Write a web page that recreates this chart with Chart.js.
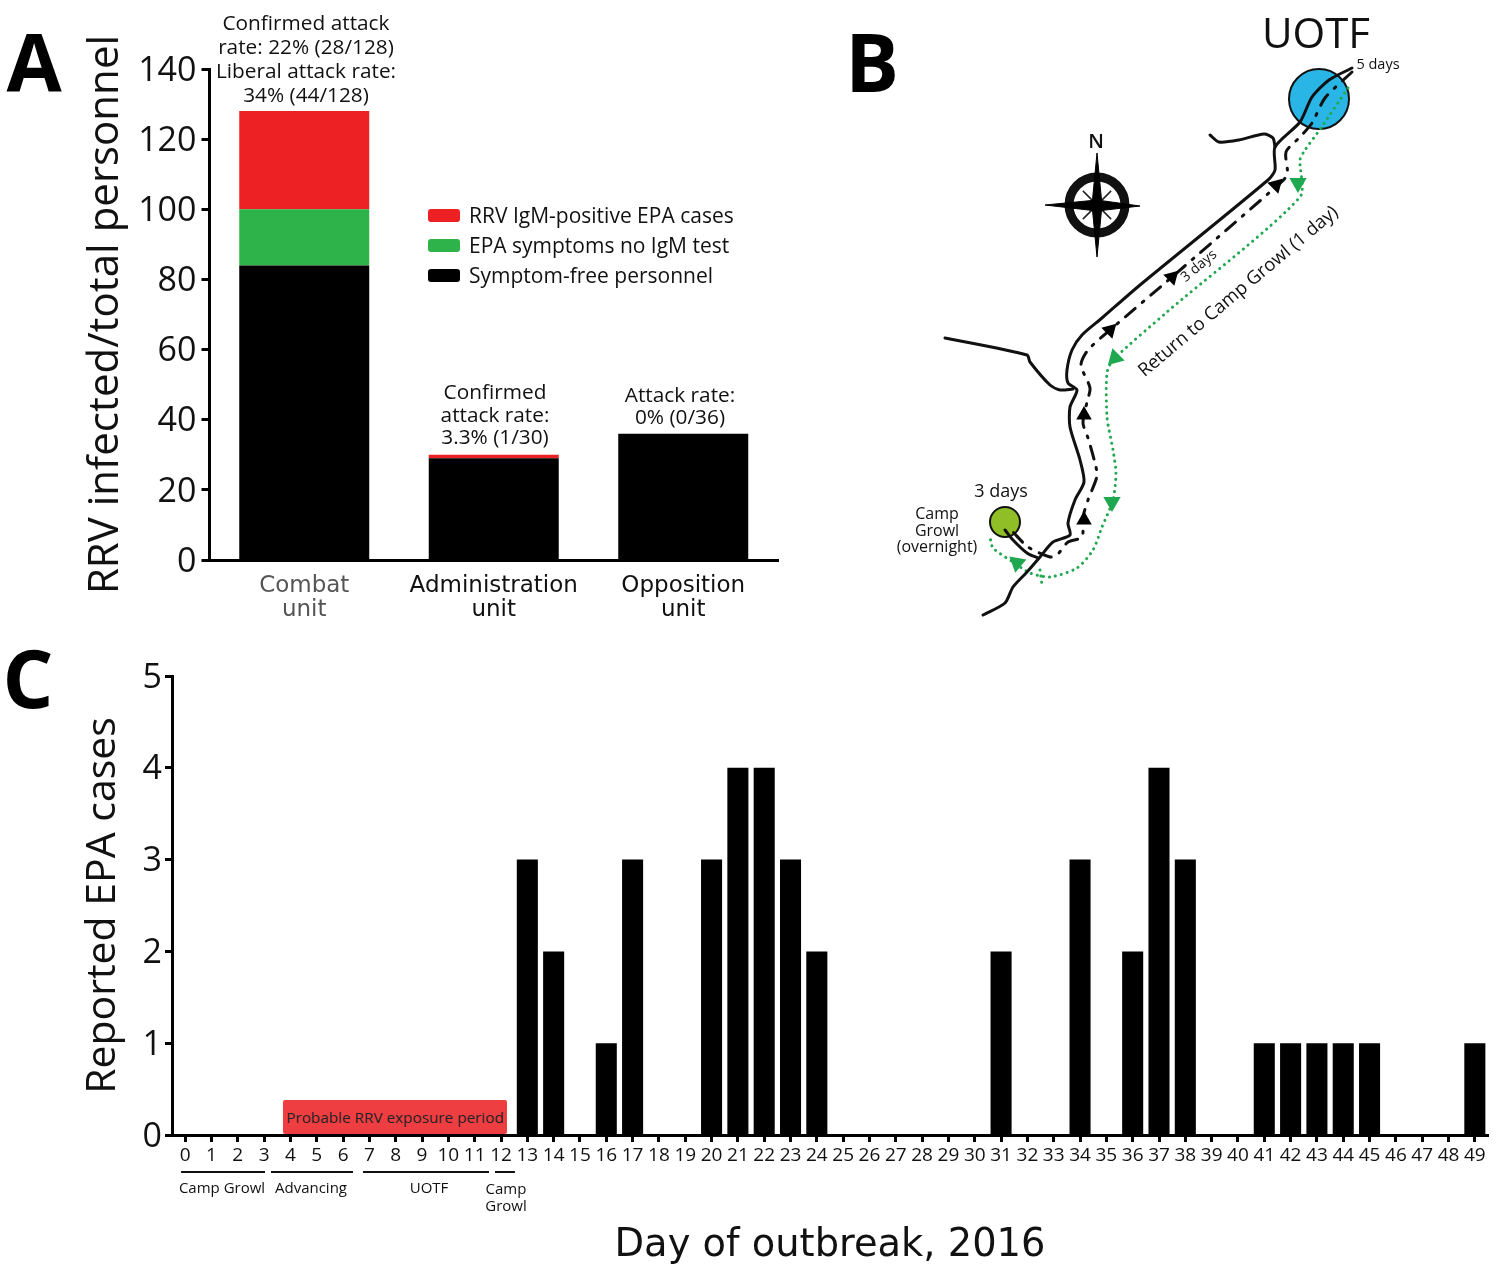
<!DOCTYPE html>
<html>
<head>
<meta charset="utf-8">
<title>RRV outbreak</title>
<script src="https://cdn.jsdelivr.net/npm/chart.js@4"></script>
<style>
  html, body { margin: 0; background: #fff; }
  #page { position: relative; width: 1500px; height: 1276px; overflow: hidden; font-family: "Open Sans", sans-serif; color: #111; }
  canvas { position: absolute; }
  .t { position: absolute; transform: translate(-50%, -50%); white-space: nowrap; text-align: center; }
  .bar { position: absolute; background: #111; height: 2px; }
  .swatch { position: absolute; width: 32px; height: 13px; border-radius: 3px; }
</style>
</head>
<body>
<div id="page">
  <canvas id="chartA" width="800" height="630" style="left:0;top:0"></canvas>
  <canvas id="chartB" width="560" height="630" style="left:880px;top:0"></canvas>
  <canvas id="chartC" width="1500" height="636" style="left:0;top:640px"></canvas>
</div>
<script>
// -- Panel A data --
const unitLabels = [['Combat', 'unit'], ['Administration', 'unit'], ['Opposition', 'unit']];
const symptomFree = [84, 29, 36];
const noIgmTest = [16, 0, 0];
const igmPositive = [28, 1, 0];
const legendLabels = ['RRV IgM-positive EPA cases', 'EPA symptoms no IgM test', 'Symptom-free personnel'];

// -- Panel C data --
const days = ['0','1','2','3','4','5','6','7','8','9','10','11','12','13','14','15','16','17','18','19','20','21','22','23','24',
  '25','26','27','28','29','30','31','32','33','34','35','36','37','38','39','40','41','42','43','44','45','46','47','48','49'];
const epaCases = [0,0,0,0,0,0,0,0,0,0,0,0,0,3,2,0,1,3,0,0,3,4,4,3,2,
  0,0,0,0,0,0,2,0,0,3,0,2,4,3,0,0,1,1,1,1,1,0,0,0,1];

// -- Panel B map traces --
const riverMain = [[1352,68],[1329,80],[1312,97],[1300,122],[1275,147],[1275,170],[1268,180],[1140,285],[1102,318],[1082,335],[1072,350],
  [1067,370],[1068,383],[1077,390],[1070,407],[1070,427],[1080,460],[1084,482],[1075,500],[1068,523],[1070,535],[1053,542],
  [1040,557],[1027,572],[1013,587],[1005,603],[983,615]];
const riverWest = [[945,338],[1027,355],[1030,362],[1050,385],[1060,390],[1073,389]];
const riverNorth = [[1210,135],[1219,142],[1239,140],[1264,134],[1273,138],[1275,147]];
const campSpur = [[1005,530],[1013,540],[1027,553],[1038,558]];
const advanceRoute = [[1352,72],[1325,98],[1312,123],[1300,137],[1286,152],[1287,175],[1270,192],[1172,277],[1110,330],[1088,350],
  [1081,365],[1090,388],[1087,402],[1083,423],[1088,438],[1095,463],[1097,476],[1088,500],[1083,517],[1082,537],[1068,542],
  [1057,555],[1050,557],[1028,547],[1013,532]];
const returnRoute = [[1348,88],[1321,128],[1305,150],[1300,160],[1300,197],[1167,312],[1113,360],[1107,373],[1107,417],[1113,450],
  [1116,473],[1113,500],[1102,527],[1093,550],[1077,568],[1050,577],[1030,573],[1013,562],[993,548],[990,537]];
const returnSpur = [[1040,570],[1042,585]];
const blackArrows = [[1276,185,45],[1172,277,45],[1110,330,45],[1084,415,0],[1084,520,0]];
const greenArrows = [[1298,183,180],[1115,358,225],[1112,502,180],[1017,563,310]];
const uotfSite = [[1319,99]];
const campSite = [[1005,522]];
const compassCentre = [[1097,205]];
const compassNS = [[1097,153],[1102,205],[1097,257],[1092,205],[1097,153]];
const compassEW = [[1045,205],[1097,200],[1140,206],[1097,211],[1045,205]];

const toXY = pts => pts.map(p => ({ x: p[0], y: p[1] }));
const FONT = '"Open Sans", sans-serif';
const WIDE_FONT = '"DejaVu Sans", sans-serif';
const RED = '#ed2024', GREEN = '#2db34a', BLACK = '#000';

const page = document.getElementById('page');
function addText(x, y, text, size, extra) {
  const d = document.createElement('div');
  d.className = 't';
  d.textContent = text;
  d.style.cssText = `left:${x}px;top:${y}px;font-size:${size}px;` + (extra || '');
  page.appendChild(d);
  return d;
}
function addBar(x1, x2, y) {
  const d = document.createElement('div');
  d.className = 'bar';
  d.style.cssText = `left:${x1}px;top:${y}px;width:${x2 - x1}px`;
  page.appendChild(d);
}

// -- Panel A: stacked bars --
new Chart(document.getElementById('chartA'), {
  type: 'bar',
  data: {
    labels: unitLabels,
    datasets: [
      { label: legendLabels[2], data: symptomFree, backgroundColor: BLACK },
      { label: legendLabels[1], data: noIgmTest, backgroundColor: GREEN },
      { label: legendLabels[0], data: igmPositive, backgroundColor: RED }
    ]
  },
  options: {
    responsive: false,
    animation: false,
    barPercentage: 1,
    categoryPercentage: 0.686,
    layout: { padding: { left: 81, top: 69, right: 22, bottom: 0 } },
    plugins: { legend: { display: false }, tooltip: { enabled: false } },
    scales: {
      x: {
        stacked: true,
        grid: { display: false },
        border: { color: BLACK, width: 3 },
        ticks: {
          maxRotation: 0,
          padding: 6,
          color: c => c.index === 0 ? '#555' : '#111',
          font: { family: WIDE_FONT, size: 23, lineHeight: 1.05 }
        },
        afterFit: s => { s.height = 70; }
      },
      y: {
        stacked: true,
        min: 0, max: 140,
        grid: { drawOnChartArea: false, tickLength: 8, tickWidth: 3, tickColor: BLACK },
        border: { color: BLACK, width: 3 },
        ticks: { stepSize: 20, padding: 5, labelOffset: 2, color: '#111', font: { family: FONT, size: 34 } },
        title: { display: true, text: 'RRV infected/total personnel', color: '#111', padding: 0, font: { family: FONT, size: 42 } },
        afterFit: s => { s.width = 128.5; }
      }
    }
  }
});

// -- Panel B: route map, traced through hidden scales --
const routeLine = (pts, color, width, dash) => ({
  data: toXY(pts), showLine: true, pointRadius: 0, borderColor: color, borderWidth: width,
  borderDash: dash || [], borderCapStyle: 'round', borderJoinStyle: 'round', tension: 0.25, fill: false
});
const greenLine = pts => routeLine(pts, '#1fa850', 3, [0.1, 6]);
const arrows = (pts, color, r) => ({
  data: toXY(pts), pointStyle: 'triangle', pointRadius: r, borderWidth: 0, backgroundColor: color, borderColor: color,
  pointRotation: pts.map(p => p[2])
});
const site = (pts, color, r) => ({
  data: toXY(pts), pointStyle: 'circle', pointRadius: r, backgroundColor: color, borderColor: '#111', borderWidth: 2
});
const kite = pts => ({
  data: toXY(pts), showLine: true, pointRadius: 0, borderColor: BLACK, borderWidth: 1, backgroundColor: BLACK, fill: 'shape', tension: 0
});

new Chart(document.getElementById('chartB'), {
  type: 'scatter',
  data: {
    datasets: [
      arrows(blackArrows, BLACK, 9),
      arrows(greenArrows, '#1fa850', 10),
      routeLine(riverMain, '#111', 3),
      routeLine(riverWest, '#111', 3),
      routeLine(riverNorth, '#111', 3),
      routeLine(campSpur, '#111', 3),
      routeLine(advanceRoute, '#111', 3, [13, 9, 2, 9]),
      greenLine(returnRoute),
      greenLine(returnSpur),
      kite(compassNS),
      kite(compassEW),
      { data: toXY(compassCentre), pointStyle: 'crossRot', pointRadius: 20, borderColor: '#222', borderWidth: 1.5 },
      { data: toXY(compassCentre), pointStyle: 'circle', pointRadius: 28, borderColor: '#111', borderWidth: 9, backgroundColor: '#fff' },
      site(uotfSite, '#29b5e5', 30),
      site(campSite, '#8fbe26', 15)
    ]
  },
  options: {
    responsive: false,
    animation: false,
    layout: { autoPadding: false },
    plugins: { legend: { display: false }, tooltip: { enabled: false } },
    scales: {
      x: { display: false, min: 880, max: 1440 },
      y: { display: false, min: 0, max: 630, reverse: true }
    }
  }
});

// -- Panel C: daily cases --
new Chart(document.getElementById('chartC'), {
  type: 'bar',
  data: { labels: days, datasets: [{ data: epaCases, backgroundColor: BLACK, barPercentage: 1, categoryPercentage: 0.8 }] },
  options: {
    responsive: false,
    animation: false,
    layout: { padding: { left: 79, top: 36, right: 12, bottom: 0 } },
    plugins: { legend: { display: false }, tooltip: { enabled: false } },
    scales: {
      x: {
        grid: { offset: false, drawOnChartArea: false, tickLength: 7, tickWidth: 3, tickColor: BLACK },
        border: { color: BLACK, width: 3 },
        ticks: { autoSkip: false, maxRotation: 0, padding: 2, color: '#111', font: { family: FONT, size: 19 } },
        title: { display: true, text: 'Day of outbreak, 2016', color: '#111', padding: { top: 0, bottom: 7 }, font: { family: WIDE_FONT, size: 38.4 } },
        afterFit: s => { s.height = 141; }
      },
      y: {
        min: 0, max: 5,
        grid: { drawOnChartArea: false, tickLength: 7, tickWidth: 3, tickColor: BLACK },
        border: { color: BLACK, width: 3 },
        ticks: { stepSize: 1, padding: 3, labelOffset: 2, color: '#111', font: { family: FONT, size: 34 } },
        title: { display: true, text: 'Reported EPA cases', color: '#111', padding: 0, font: { family: FONT, size: 41 } },
        afterFit: s => { s.width = 93; }
      }
    }
  }
});

// -- Panel letters --
const LETTER = 'font-weight:700;color:#000;';
addText(34, 60, 'A', 80, LETTER);
addText(872, 60, 'B', 80, LETTER);
addText(28, 676, 'C', 80, LETTER);

// -- Panel A notes and legend --
['Confirmed attack', 'rate: 22% (28/128)', 'Liberal attack rate:', '34% (44/128)'].forEach((s, i) => addText(306, 22 + i * 24, s, 20.8));
['Confirmed', 'attack rate:', '3.3% (1/30)'].forEach((s, i) => addText(495, 391 + i * 22.5, s, 20.8));
['Attack rate:', '0% (0/36)'].forEach((s, i) => addText(680, 394 + i * 22, s, 20.8));
[RED, GREEN, BLACK].forEach((col, i) => {
  const sw = document.createElement('div');
  sw.className = 'swatch';
  sw.style.cssText = `left:428px;top:${209 + i * 30}px;background:${col}`;
  page.appendChild(sw);
  const tx = addText(469, 215 + i * 30, legendLabels[i], 21);
  tx.style.transform = 'translate(0,-50%)';
});

// -- Panel B labels --
addText(1316, 31, 'UOTF', 42);
addText(1378, 63, '5 days', 14.5);
addText(1096, 140, 'N', 20, 'font-weight:600;');
addText(1198, 265, '3 days', 14, 'transform:translate(-50%,-50%) rotate(-40deg);');
addText(1237, 290, 'Return to Camp Growl (1 day)', 18.5, 'transform:translate(-50%,-50%) rotate(-40deg);');
addText(1001, 490, '3 days', 18);
['Camp', 'Growl', '(overnight)'].forEach((s, i) => addText(937, 513 + i * 16.5, s, 16));

// -- Panel C exposure box and phase brackets --
const box = addText(395, 1117, 'Probable RRV exposure period', 15.3,
  'width:224px;height:34px;line-height:34px;background:#ef3e42;border-radius:2px;');
box.style.color = '#222';
addBar(181, 265, 1171);
addBar(271, 353, 1171);
addBar(363, 489, 1171);
addBar(495, 515, 1171);
addText(222, 1187, 'Camp Growl', 15);
addText(311, 1187, 'Advancing', 15);
addText(429, 1187, 'UOTF', 15);
addText(506, 1188, 'Camp', 15);
addText(506, 1205, 'Growl', 15);
</script>
</body>
</html>
